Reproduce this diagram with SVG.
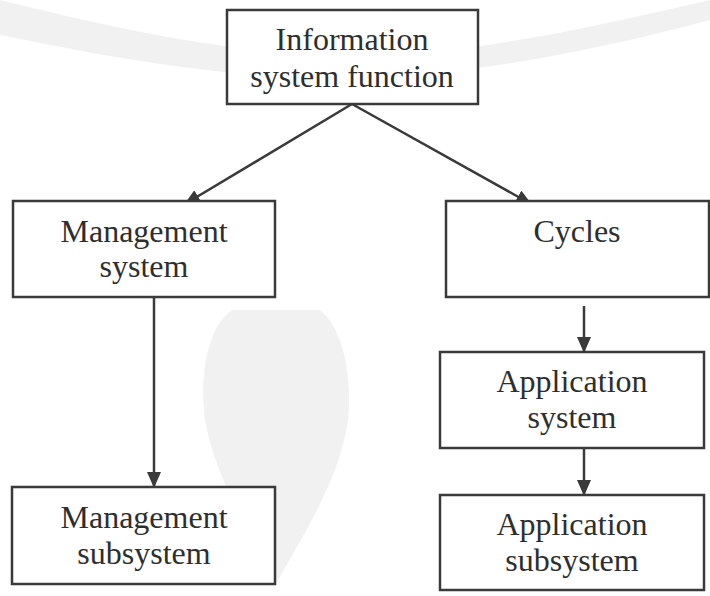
<svg xmlns="http://www.w3.org/2000/svg" width="710" height="596" viewBox="0 0 710 596">
<defs>
<style>
.box{fill:#fff;stroke:#3a3a3a;stroke-width:2.5}
.t{font-family:"Liberation Serif","Times New Roman",serif;font-size:32px;fill:#2e2e2e;text-anchor:middle}
.c{stroke:#3a3a3a;stroke-width:2.5;fill:none}
.wm{fill:#f1f1f1;stroke:none}
</style>
<marker id="ah" viewBox="0 0 16 14" refX="15" refY="7" markerWidth="16" markerHeight="14" markerUnits="userSpaceOnUse" orient="auto">
<path d="M0,0 L16,7 L0,14 Z" fill="#3a3a3a"/>
</marker>
</defs>
<rect width="710" height="596" fill="#fff"/>
<g id="watermark">
<path class="wm" d="M0,0 C120,30 220,50 320,55 C440,60 560,35 710,0 L710,20 C560,60 430,80 320,78 C200,75 100,55 0,35 Z"/>
<path class="wm" d="M232,310 C205,330 200,380 205,420 C215,480 255,540 277,582 C300,540 340,480 348,420 C352,380 345,330 320,310 Z"/>
</g>
<g id="connectors">
<line class="c" x1="352" y1="104" x2="185" y2="204" marker-end="url(#ah)"/>
<line class="c" x1="352" y1="104" x2="531" y2="204" marker-end="url(#ah)"/>
<line class="c" x1="154" y1="297" x2="154" y2="487" marker-end="url(#ah)"/>
<line class="c" x1="584" y1="306" x2="584" y2="352" marker-end="url(#ah)"/>
<line class="c" x1="584" y1="448" x2="584" y2="495" marker-end="url(#ah)"/>
</g>
<g id="n-info">
<rect class="box" x="227" y="10" width="251" height="94"/>
<text class="t" x="352" y="50">Information</text>
<text class="t" x="352" y="87">system function</text>
</g>
<g id="n-mgmt">
<rect class="box" x="13" y="201" width="262" height="96"/>
<text class="t" x="144" y="242">Management</text>
<text class="t" x="144" y="277">system</text>
</g>
<g id="n-cycles">
<rect class="box" x="446" y="201" width="263" height="96"/>
<text class="t" x="577" y="242">Cycles</text>
</g>
<g id="n-appsys">
<rect class="box" x="440" y="352" width="264" height="96"/>
<text class="t" x="572" y="392">Application</text>
<text class="t" x="572" y="428">system</text>
</g>
<g id="n-mgmtsub">
<rect class="box" x="12" y="487" width="263" height="97"/>
<text class="t" x="144" y="528">Management</text>
<text class="t" x="144" y="564">subsystem</text>
</g>
<g id="n-appsub">
<rect class="box" x="440" y="495" width="264" height="95"/>
<text class="t" x="572" y="535">Application</text>
<text class="t" x="572" y="571">subsystem</text>
</g>
</svg>
